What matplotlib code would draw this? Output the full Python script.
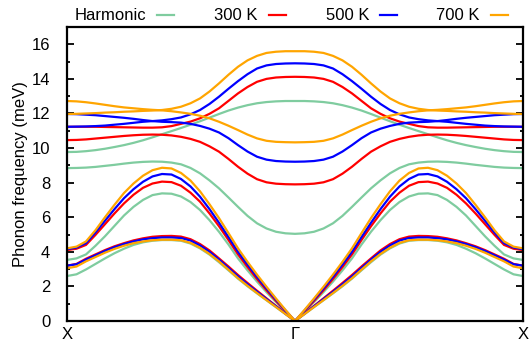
import numpy as np
import matplotlib
matplotlib.use("Agg")
import matplotlib.pyplot as plt
from matplotlib.lines import Line2D

plt.rcParams['font.family'] = ['Liberation Sans', 'DejaVu Sans']

# Reduced wave-vector along X -> Gamma (the Gamma -> X half is its mirror image)
q_half = np.linspace(0.0, 1.0, 25)

# Phonon branches (meV) sampled along X -> Gamma
harm_ta  = [2.60, 2.70, 2.98, 3.30, 3.62, 3.92, 4.18, 4.40, 4.55, 4.64, 4.68, 4.68, 4.64,
            4.48, 4.20, 3.84, 3.40, 2.93, 2.45, 2.01, 1.60, 1.20, 0.80, 0.40, 0.0]
harm_la  = [3.53, 3.62, 3.85, 4.35, 4.90, 5.50, 6.10, 6.60, 7.00, 7.28, 7.38, 7.36, 7.20,
            6.88, 6.42, 5.83, 5.16, 4.42, 3.62, 2.93, 2.28, 1.67, 1.09, 0.53, 0.0]
harm_op1 = [8.84, 8.85, 8.87, 8.91, 8.97, 9.03, 9.10, 9.16, 9.20, 9.22, 9.21, 9.16, 9.06,
            8.85, 8.54, 8.13, 7.67, 7.14, 6.60, 6.08, 5.65, 5.35, 5.16, 5.07, 5.04]
harm_op2 = [9.77, 9.78, 9.82, 9.88, 9.96, 10.06, 10.17, 10.30, 10.45, 10.62, 10.80, 10.98, 11.16,
            11.35, 11.55, 11.76, 11.97, 12.17, 12.34, 12.48, 12.59, 12.66, 12.70, 12.72, 12.72]

k300_ta  = [3.20, 3.30, 3.60, 3.85, 4.10, 4.32, 4.50, 4.66, 4.78, 4.87, 4.91, 4.92, 4.88,
            4.73, 4.45, 4.08, 3.62, 3.15, 2.66, 2.20, 1.75, 1.31, 0.87, 0.44, 0.0]
k300_la  = [4.10, 4.18, 4.40, 4.98, 5.60, 6.22, 6.80, 7.30, 7.70, 7.95, 8.06, 8.03, 7.82,
            7.42, 6.90, 6.22, 5.48, 4.68, 3.85, 3.12, 2.43, 1.78, 1.16, 0.57, 0.0]
k300_op1 = [10.46, 10.47, 10.50, 10.55, 10.60, 10.65, 10.70, 10.74, 10.77, 10.78, 10.77, 10.73, 10.65,
            10.53, 10.36, 10.10, 9.79, 9.37, 8.92, 8.52, 8.20, 8.02, 7.94, 7.91, 7.90]
k300_op2 = [11.23, 11.23, 11.23, 11.23, 11.22, 11.21, 11.20, 11.19, 11.18, 11.18, 11.20, 11.27, 11.40,
            11.53, 11.72, 11.98, 12.30, 12.73, 13.16, 13.53, 13.83, 14.00, 14.08, 14.11, 14.12]

k500_ta  = [3.20, 3.28, 3.55, 3.80, 4.05, 4.27, 4.45, 4.60, 4.72, 4.79, 4.83, 4.83, 4.80,
            4.65, 4.37, 4.00, 3.55, 3.07, 2.58, 2.13, 1.69, 1.27, 0.85, 0.42, 0.0]
k500_la  = [4.15, 4.25, 4.50, 5.12, 5.80, 6.47, 7.10, 7.62, 8.05, 8.36, 8.50, 8.47, 8.21,
            7.78, 7.19, 6.47, 5.68, 4.85, 4.00, 3.26, 2.55, 1.88, 1.24, 0.61, 0.0]
k500_op1 = [11.97, 11.96, 11.93, 11.90, 11.85, 11.80, 11.75, 11.69, 11.62, 11.56, 11.52, 11.50, 11.47,
            11.40, 11.28, 11.12, 10.90, 10.57, 10.17, 9.80, 9.50, 9.33, 9.25, 9.22, 9.21]
k500_op2 = [11.23, 11.24, 11.25, 11.27, 11.30, 11.35, 11.40, 11.46, 11.52, 11.56, 11.60, 11.67, 11.77,
            11.95, 12.20, 12.55, 12.97, 13.43, 13.87, 14.27, 14.60, 14.78, 14.86, 14.89, 14.90]

k700_ta  = [3.05, 3.15, 3.45, 3.70, 3.95, 4.17, 4.35, 4.50, 4.60, 4.67, 4.70, 4.70, 4.67,
            4.52, 4.24, 3.88, 3.45, 2.97, 2.48, 2.04, 1.62, 1.21, 0.81, 0.40, 0.0]
k700_la  = [4.20, 4.30, 4.60, 5.25, 6.00, 6.72, 7.40, 7.95, 8.40, 8.72, 8.86, 8.82, 8.56,
            8.12, 7.50, 6.75, 5.95, 5.08, 4.20, 3.42, 2.68, 1.98, 1.30, 0.64, 0.0]
k700_op1 = [12.72, 12.70, 12.65, 12.58, 12.50, 12.42, 12.35, 12.30, 12.25, 12.21, 12.18, 12.13, 12.06,
            11.98, 11.87, 11.72, 11.52, 11.29, 11.04, 10.78, 10.56, 10.42, 10.36, 10.34, 10.33]
k700_op2 = [11.97, 11.98, 12.00, 12.02, 12.05, 12.07, 12.10, 12.12, 12.15, 12.17, 12.20, 12.27, 12.39,
            12.59, 12.87, 13.27, 13.74, 14.24, 14.70, 15.07, 15.33, 15.50, 15.57, 15.60, 15.60]

series_labels = ["Harmonic", "300 K", "500 K", "700 K"]
series_colors = ["#7fcc9f", "#ff0000", "#0000ff", "#ffa500"]
series_bands = [
    [harm_ta, harm_la, harm_op1, harm_op2],
    [k300_ta, k300_la, k300_op1, k300_op2],
    [k500_ta, k500_la, k500_op1, k500_op2],
    [k700_ta, k700_la, k700_op1, k700_op2],
]

tick_pos = [0.0, 1.0, 2.0]
tick_labels = ["X", "Γ", "X"]


def full_path(values):
    v = np.asarray(values, dtype=float)
    x = np.concatenate([q_half, 2.0 - q_half[::-1][1:]])
    y = np.concatenate([v, v[::-1][1:]])
    return x, y


W, H = 531, 342
fig = plt.figure(figsize=(W / 100, H / 100), dpi=100)
ax = fig.add_axes([67 / W, 21 / H, (523 - 67) / W, (321 - 27) / H])

for bands, color in zip(series_bands, series_colors):
    for band in bands:
        x, y = full_path(band)
        ax.plot(x, y, color=color, lw=1.6, solid_capstyle='round',
                solid_joinstyle='round')

ax.set_xlim(0, 2)
ax.set_ylim(0, 17)
ax.set_xticks(tick_pos)
ax.set_xticklabels(tick_labels, fontsize=12)
ax.set_yticks(np.arange(0, 17, 2))
ax.set_yticks(np.arange(1, 17, 2), minor=True)
ax.tick_params(axis='y', which='major', direction='in', length=5, width=1.3,
               left=True, right=True, labelsize=12, pad=12)
ax.tick_params(axis='y', which='minor', direction='in', length=2.5, width=1.3,
               left=True, right=True)
ax.tick_params(axis='x', length=0, pad=4)
for sp in ax.spines.values():
    sp.set_linewidth(1.6)
ax.set_ylabel("Phonon frequency (meV)", fontsize=12, labelpad=3)

# Key row above the frame: label text followed by a line sample
text_right = [146, 258, 369, 480]
ly = 1 - 15 / H
for lab, col, xr in zip(series_labels, series_colors, text_right):
    fig.text(xr / W, ly, lab, ha='right', va='center', fontsize=12)
    fig.add_artist(Line2D([(xr + 11) / W, (xr + 28) / W], [ly, ly],
                          transform=fig.transFigure, color=col, lw=1.6))

fig.savefig("out.png", dpi=100)
